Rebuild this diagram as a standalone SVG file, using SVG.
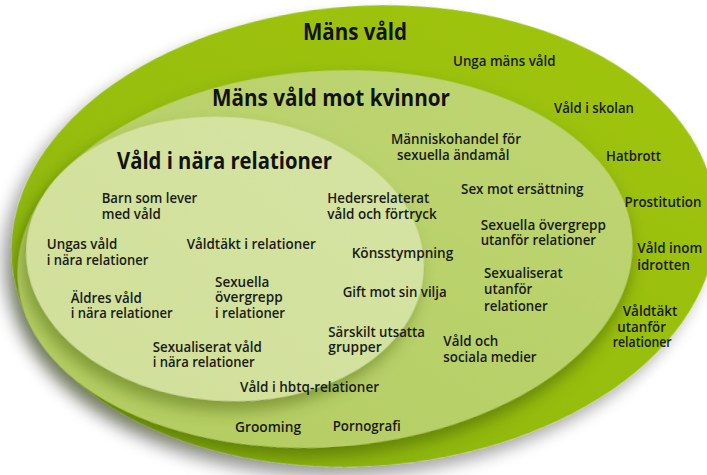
<svg xmlns="http://www.w3.org/2000/svg" width="707" height="475" viewBox="0 0 707 475">
<defs>
<style>
.t{font-family:"Open Sans","Noto Sans","DejaVu Sans",sans-serif;font-weight:600;font-size:14.5px;fill:#1a1a14}
.h{font-family:"Open Sans","Noto Sans","DejaVu Sans",sans-serif;font-weight:700;font-size:23px;fill:#121210}
</style>
<linearGradient id="gOuter" x1="1" y1="0" x2="0" y2="1">
<stop offset="0" stop-color="#a2c50f"/>
<stop offset="0.55" stop-color="#97be10"/>
<stop offset="1" stop-color="#82ab0d"/>
</linearGradient>
<linearGradient id="gMid" x1="1" y1="0" x2="0" y2="1">
<stop offset="0" stop-color="#bfd674"/>
<stop offset="1" stop-color="#b3cc60"/>
</linearGradient>
<linearGradient id="gIn" x1="1" y1="0" x2="0" y2="1">
<stop offset="0" stop-color="#d6e4a4"/>
<stop offset="1" stop-color="#d0df98"/>
</linearGradient>
<filter id="shOuter" x="-20%" y="-20%" width="140%" height="140%">
<feDropShadow dx="-10" dy="10" stdDeviation="8" flood-color="#000" flood-opacity="0.35"/>
</filter>
<filter id="shMid" x="-20%" y="-20%" width="140%" height="140%">
<feDropShadow dx="-2" dy="9" stdDeviation="8" flood-color="#355000" flood-opacity="0.5"/>
</filter>
<filter id="shIn" x="-20%" y="-20%" width="140%" height="140%">
<feDropShadow dx="-4" dy="10" stdDeviation="8" flood-color="#3f5a00" flood-opacity="0.45"/>
</filter>
</defs>
<rect width="707" height="475" fill="#ffffff"/>
<g id="mans-vald">
<ellipse cx="364" cy="236" rx="353" ry="230" transform="rotate(-4 364 236)" fill="url(#gOuter)" filter="url(#shOuter)"/>
</g>
<g id="mans-vald-mot-kvinnor">
<ellipse cx="325" cy="259" rx="308" ry="188" transform="rotate(-4 325 259)" fill="url(#gMid)" filter="url(#shMid)"/>
</g>
<g id="vald-i-nara-relationer">
<ellipse cx="225" cy="259" rx="199" ry="142" transform="rotate(4 225 259)" fill="url(#gIn)" filter="url(#shIn)"/>
</g>
<g id="connectors"/>
<g id="labels">
<g id="l-mans-vald"><text class="h" x="303" y="40" textLength="104" lengthAdjust="spacingAndGlyphs">Mäns våld</text></g>
<g id="l-mans-vald-mot-kvinnor"><text class="h" x="212" y="106" textLength="238" lengthAdjust="spacingAndGlyphs">Mäns våld mot kvinnor</text></g>
<g id="l-vald-i-nara-relationer"><text class="h" x="117" y="169" textLength="215" lengthAdjust="spacingAndGlyphs">Våld i nära relationer</text></g>
<g id="l-unga-mans-vald"><text class="t" x="453" y="66" textLength="102.5" lengthAdjust="spacingAndGlyphs">Unga mäns våld</text></g>
<g id="l-vald-i-skolan"><text class="t" x="554" y="113" textLength="80" lengthAdjust="spacingAndGlyphs">Våld i skolan</text></g>
<g id="l-manniskohandel"><text class="t" x="391" y="144" textLength="130" lengthAdjust="spacingAndGlyphs">Människohandel för</text><text class="t" x="397" y="159.5" textLength="112.5" lengthAdjust="spacingAndGlyphs">sexuella ändamål</text></g>
<g id="l-hatbrott"><text class="t" x="606" y="160.5" textLength="55" lengthAdjust="spacingAndGlyphs">Hatbrott</text></g>
<g id="l-sex-mot-ersattning"><text class="t" x="461" y="194" textLength="122.5" lengthAdjust="spacingAndGlyphs">Sex mot ersättning</text></g>
<g id="l-prostitution"><text class="t" x="624.5" y="206.5" textLength="77" lengthAdjust="spacingAndGlyphs">Prostitution</text></g>
<g id="l-barn"><text class="t" x="101.7" y="203.3" textLength="95.6" lengthAdjust="spacingAndGlyphs">Barn som lever</text><text class="t" x="101.7" y="218.7" textLength="59" lengthAdjust="spacingAndGlyphs">med våld</text></g>
<g id="l-heders"><text class="t" x="327.3" y="203.3" textLength="102" lengthAdjust="spacingAndGlyphs">Hedersrelaterat</text><text class="t" x="327.3" y="219.3" textLength="109.3" lengthAdjust="spacingAndGlyphs">våld och förtryck</text></g>
<g id="l-sexuella-overgrepp-utanfor"><text class="t" x="480.7" y="230" textLength="125.3" lengthAdjust="spacingAndGlyphs">Sexuella övergrepp</text><text class="t" x="480.7" y="245" textLength="115.3" lengthAdjust="spacingAndGlyphs">utanför relationer</text></g>
<g id="l-ungas-vald"><text class="t" x="46.7" y="249.3" textLength="70.6" lengthAdjust="spacingAndGlyphs">Ungas våld</text><text class="t" x="46.7" y="265" textLength="101.6" lengthAdjust="spacingAndGlyphs">i nära relationer</text></g>
<g id="l-valdtakt-i-relationer"><text class="t" x="186.7" y="249.3" textLength="129" lengthAdjust="spacingAndGlyphs">Våldtäkt i relationer</text></g>
<g id="l-vald-inom-idrotten"><text class="t" x="637.3" y="253.3" textLength="65" lengthAdjust="spacingAndGlyphs">Våld inom</text><text class="t" x="637.3" y="270" textLength="52.7" lengthAdjust="spacingAndGlyphs">idrotten</text></g>
<g id="l-konsstympning"><text class="t" x="351.7" y="258.3" textLength="101.6" lengthAdjust="spacingAndGlyphs">Könsstympning</text></g>
<g id="l-sexualiserat-utanfor"><text class="t" x="484" y="278.3" textLength="78.7" lengthAdjust="spacingAndGlyphs">Sexualiserat</text><text class="t" x="484" y="294.3" textLength="48.3" lengthAdjust="spacingAndGlyphs">utanför</text><text class="t" x="484" y="310.7" textLength="63.7" lengthAdjust="spacingAndGlyphs">relationer</text></g>
<g id="l-sexuella-overgrepp-i-relationer"><text class="t" x="215" y="286.7" textLength="54.3" lengthAdjust="spacingAndGlyphs">Sexuella</text><text class="t" x="215" y="302" textLength="67.7" lengthAdjust="spacingAndGlyphs">övergrepp</text><text class="t" x="215" y="318.3" textLength="70" lengthAdjust="spacingAndGlyphs">i relationer</text></g>
<g id="l-gift-mot-sin-vilja"><text class="t" x="342.7" y="297.3" textLength="104" lengthAdjust="spacingAndGlyphs">Gift mot sin vilja</text></g>
<g id="l-aldres-vald"><text class="t" x="70.7" y="303.3" textLength="71" lengthAdjust="spacingAndGlyphs">Äldres våld</text><text class="t" x="70.7" y="318.3" textLength="102" lengthAdjust="spacingAndGlyphs">i nära relationer</text></g>
<g id="l-valdtakt-utanfor"><text class="t" x="622.7" y="316" textLength="54.7" lengthAdjust="spacingAndGlyphs">Våldtäkt</text><text class="t" x="617.3" y="331.7" textLength="48.7" lengthAdjust="spacingAndGlyphs">utanför</text><text class="t" x="612.7" y="347.3" textLength="59" lengthAdjust="spacingAndGlyphs">relationer</text></g>
<g id="l-sarskilt-utsatta"><text class="t" x="328.3" y="336.7" textLength="96.7" lengthAdjust="spacingAndGlyphs">Särskilt utsatta</text><text class="t" x="328.3" y="351.7" textLength="53.3" lengthAdjust="spacingAndGlyphs">grupper</text></g>
<g id="l-vald-och-sociala-medier"><text class="t" x="443.3" y="346" textLength="55" lengthAdjust="spacingAndGlyphs">Våld och</text><text class="t" x="443.3" y="361.7" textLength="93.3" lengthAdjust="spacingAndGlyphs">sociala medier</text></g>
<g id="l-sexualiserat-vald"><text class="t" x="152.7" y="352.3" textLength="109" lengthAdjust="spacingAndGlyphs">Sexualiserat våld</text><text class="t" x="152.7" y="367.3" textLength="102" lengthAdjust="spacingAndGlyphs">i nära relationer</text></g>
<g id="l-hbtq"><text class="t" x="240" y="391.7" textLength="139" lengthAdjust="spacingAndGlyphs">Våld i hbtq-relationer</text></g>
<g id="l-grooming"><text class="t" x="235" y="431.5" textLength="66" lengthAdjust="spacingAndGlyphs">Grooming</text></g>
<g id="l-pornografi"><text class="t" x="332.7" y="430.7" textLength="68" lengthAdjust="spacingAndGlyphs">Pornografi</text></g>
</g>
</svg>
